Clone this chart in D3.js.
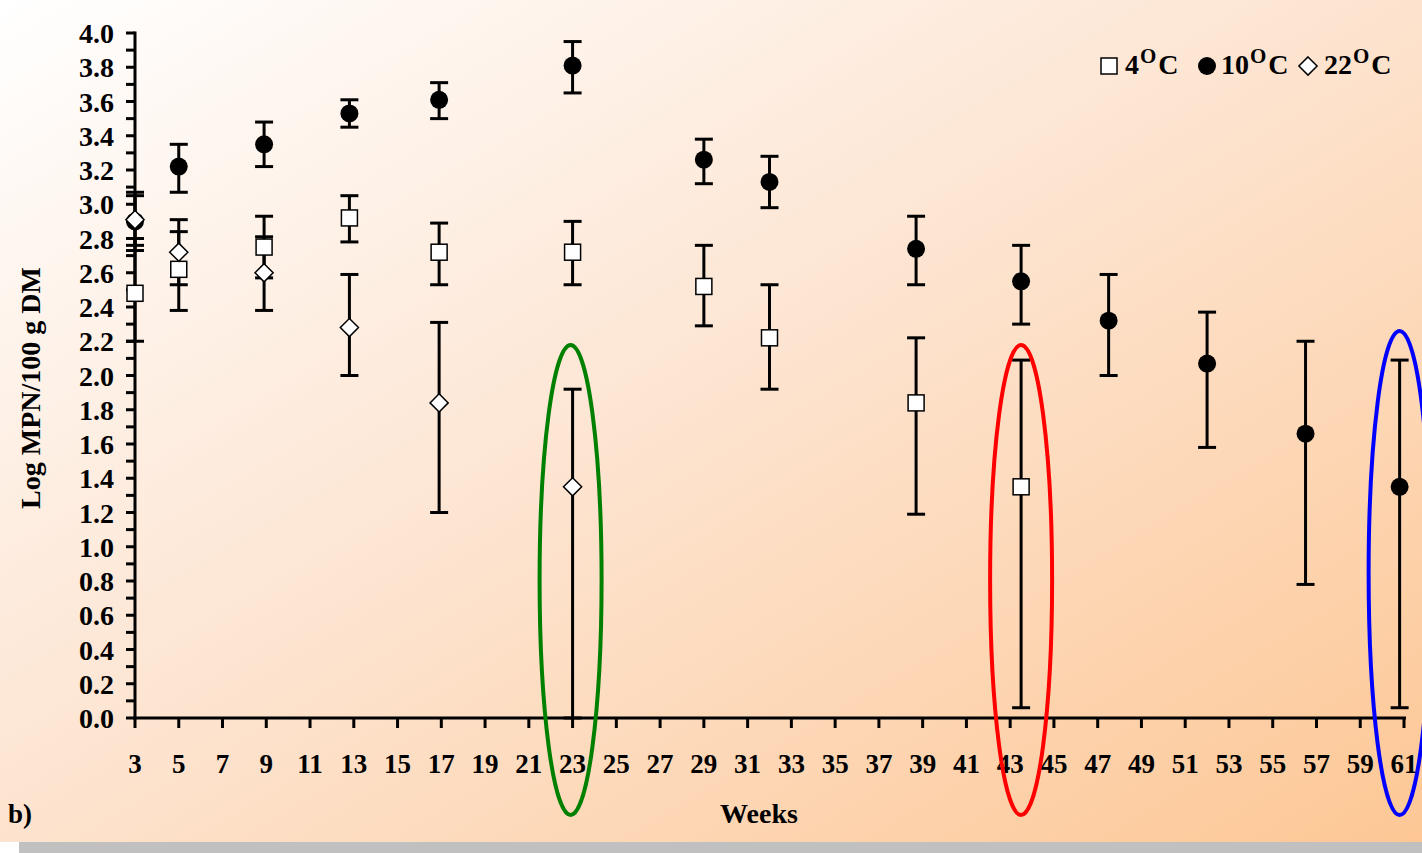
<!DOCTYPE html>
<html>
<head>
<meta charset="utf-8">
<script src="https://cdn.jsdelivr.net/npm/d3@7"></script>
<style>
  body { margin: 0; background: #fff; }
  svg text { font-family: "Liberation Serif", "Times New Roman", serif; font-weight: bold; fill: #000; }
</style>
</head>
<body>
<svg id="chart" width="1422" height="853"></svg>
<script>
// weeks and values
const weeks4 = [3, 5, 8.9, 12.8, 16.9, 23, 29, 32, 38.7, 43.5];
const mean4 = [2.48, 2.62, 2.75, 2.92, 2.72, 2.72, 2.52, 2.22, 1.84, 1.35];
const lo4 = [2.20, 2.38, 2.57, 2.78, 2.53, 2.53, 2.29, 1.92, 1.19, 0.06];
const hi4 = [2.80, 2.84, 2.93, 3.05, 2.89, 2.90, 2.76, 2.53, 2.22, 2.09];

const weeks10 = [3, 5, 8.9, 12.8, 16.9, 23, 29, 32, 38.7, 43.5, 47.5, 52, 56.5, 60.8];
const mean10 = [2.90, 3.22, 3.35, 3.53, 3.61, 3.81, 3.26, 3.13, 2.74, 2.55, 2.32, 2.07, 1.66, 1.35];
const lo10 = [2.73, 3.07, 3.22, 3.45, 3.50, 3.65, 3.12, 2.98, 2.53, 2.30, 2.00, 1.58, 0.78, 0.06];
const hi10 = [3.07, 3.35, 3.48, 3.61, 3.71, 3.95, 3.38, 3.28, 2.93, 2.76, 2.59, 2.37, 2.20, 2.09];

const weeks22 = [3, 5, 8.9, 12.8, 16.9, 23];
const mean22 = [2.91, 2.72, 2.60, 2.28, 1.84, 1.35];
const lo22 = [2.76, 2.53, 2.38, 2.00, 1.20, 0.00];
const hi22 = [3.05, 2.91, 2.81, 2.59, 2.31, 1.92];

const xTicks = d3.range(3, 62, 2);
const yTicks = d3.range(0, 4.01, 0.2);
const yMinor = d3.range(0, 4.01, 0.1);
const circled = [23, 43.5, 60.8];
const circleColors = ['#008000', '#ff0000', '#0000ff'];

const svg = d3.select('#chart');
const W = 1422, H = 853;

// background panel with diagonal gradient + grey shadow strip
const defs = svg.append('defs');
const grad = defs.append('linearGradient').attr('id', 'bg')
  .attr('x1', '0%').attr('y1', '0%').attr('x2', '100%').attr('y2', '100%');
grad.append('stop').attr('offset', '0%').attr('stop-color', '#ffffff');
grad.append('stop').attr('offset', '45%').attr('stop-color', '#fde6d4');
grad.append('stop').attr('offset', '100%').attr('stop-color', '#fdc795');

svg.append('rect').attr('x', 19).attr('y', 842).attr('width', W - 19).attr('height', 11).attr('fill', '#c0c0c0');
svg.append('rect').attr('x', 0).attr('y', 0).attr('width', W).attr('height', 842).attr('fill', 'url(#bg)');

const x = d3.scaleLinear().domain([3, 61]).range([135, 1404]);
const y = d3.scaleLinear().domain([0, 4]).range([718, 33]);

// y axis
const yAxis = svg.append('g').attr('transform', 'translate(' + x(3) + ',0)');
yAxis.append('line').attr('y1', y(4) - 1.5).attr('y2', y(0) + 1.5).attr('stroke', '#000').attr('stroke-width', 3);
yAxis.selectAll('.ytick').data(yMinor).enter().append('line')
  .attr('x1', -9).attr('x2', 0).attr('y1', d => y(d)).attr('y2', d => y(d))
  .attr('stroke', '#000').attr('stroke-width', 3);
yAxis.selectAll('.ylab').data(yTicks).enter().append('text')
  .attr('x', -21).attr('y', d => y(d)).attr('dy', '0.36em')
  .attr('text-anchor', 'end').attr('font-size', 28)
  .text(d => d.toFixed(1));

// x axis
const xAxis = svg.append('g').attr('transform', 'translate(0,' + y(0) + ')');
xAxis.append('line').attr('x1', x(3) - 1.5).attr('x2', x(61) + 2).attr('stroke', '#000').attr('stroke-width', 3);
xAxis.selectAll('.xtick').data(xTicks).enter().append('line')
  .attr('x1', d => x(d)).attr('x2', d => x(d)).attr('y1', 0).attr('y2', 10)
  .attr('stroke', '#000').attr('stroke-width', 3);
xAxis.selectAll('.xlab').data(xTicks).enter().append('text')
  .attr('x', d => x(d)).attr('y', 55)
  .attr('text-anchor', 'middle').attr('font-size', 27)
  .text(d => d);

// axis titles
svg.append('text').attr('x', 759).attr('y', 823).attr('text-anchor', 'middle').attr('font-size', 28).text('Weeks');
svg.append('text').attr('transform', 'translate(40,388) rotate(-90)').attr('text-anchor', 'middle')
  .attr('font-size', 28).text('Log MPN/100 g DM');
svg.append('text').attr('x', 8).attr('y', 823).attr('font-size', 27).text('b)');

// error bars
function errorBars(ws, lo, hi) {
  const g = svg.append('g').attr('stroke', '#000').attr('stroke-width', 3);
  ws.forEach((w, i) => {
    const cx = x(w);
    g.append('line').attr('x1', cx).attr('x2', cx).attr('y1', y(hi[i])).attr('y2', y(lo[i]));
    g.append('line').attr('x1', cx - 9).attr('x2', cx + 9).attr('y1', y(hi[i])).attr('y2', y(hi[i]));
    g.append('line').attr('x1', cx - 9).attr('x2', cx + 9).attr('y1', y(lo[i])).attr('y2', y(lo[i]));
  });
}
errorBars(weeks10, lo10, hi10);
errorBars(weeks4, lo4, hi4);
errorBars(weeks22, lo22, hi22);

// markers
svg.append('g').selectAll('circle').data(weeks10).enter().append('circle')
  .attr('cx', d => x(d)).attr('cy', (d, i) => y(mean10[i])).attr('r', 9).attr('fill', '#000');
svg.append('g').selectAll('rect').data(weeks4).enter().append('rect')
  .attr('x', d => x(d) - 8).attr('y', (d, i) => y(mean4[i]) - 8)
  .attr('width', 16).attr('height', 16).attr('fill', '#fff').attr('stroke', '#000').attr('stroke-width', 1.5);
const diamond = d3.symbol().type(d3.symbolDiamond2).size(210);
svg.append('g').selectAll('path').data(weeks22).enter().append('path')
  .attr('d', diamond)
  .attr('transform', (d, i) => 'translate(' + x(d) + ',' + y(mean22[i]) + ')')
  .attr('fill', '#fff').attr('stroke', '#000').attr('stroke-width', 1.5);

// highlight ellipses
svg.append('g').selectAll('ellipse').data(circled).enter().append('ellipse')
  .attr('cx', (d, i) => x(d) + (i === 0 ? -2 : 0))
  .attr('cy', (d, i) => i === 2 ? 573 : 580)
  .attr('rx', 31)
  .attr('ry', (d, i) => i === 2 ? 242 : 235)
  .attr('fill', 'none')
  .attr('stroke', (d, i) => circleColors[i])
  .attr('stroke-width', 4);

// legend
const leg = svg.append('g').attr('font-size', 28);
leg.append('rect').attr('x', 1101).attr('y', 58).attr('width', 16).attr('height', 16)
  .attr('fill', '#fff').attr('stroke', '#000').attr('stroke-width', 1.5);
leg.append('circle').attr('cx', 1207).attr('cy', 66).attr('r', 9).attr('fill', '#000');
leg.append('path').attr('d', diamond).attr('transform', 'translate(1308,66)')
  .attr('fill', '#fff').attr('stroke', '#000').attr('stroke-width', 1.5);
const legItems = [['4', 1125], ['10', 1221], ['22', 1324]];
legItems.forEach(([t, lx]) => {
  const tx = leg.append('text').attr('x', lx).attr('y', 74);
  tx.append('tspan').text(t);
  tx.append('tspan').attr('font-size', 21).attr('dx', 1).attr('dy', -11).text('O');
  tx.append('tspan').attr('dx', 2).attr('dy', 11).text('C');
});
</script>
</body>
</html>
